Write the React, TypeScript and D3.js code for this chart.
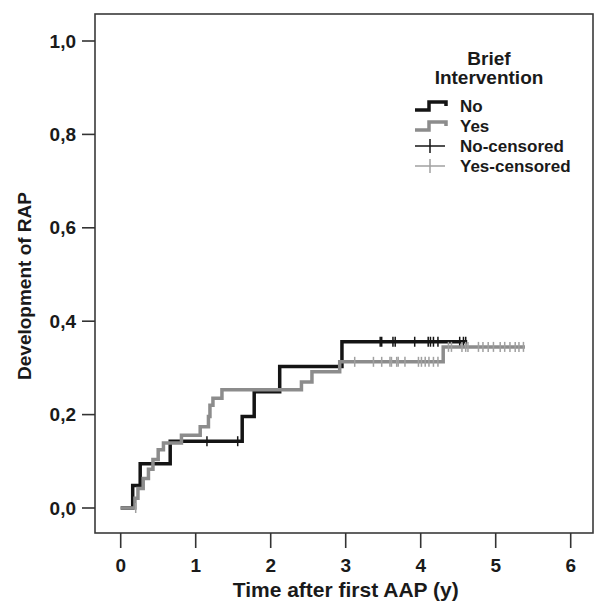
import React from "react";
import * as d3 from "d3";

// Kaplan-Meier style cumulative incidence steps: [time, value]
const noSteps: [number, number][] = [
  [0, 0], [0.16, 0.048], [0.26, 0.095], [0.66, 0.143], [1.62, 0.196],
  [1.78, 0.249], [2.12, 0.303], [2.95, 0.356],
];
const noEnd = 4.62;
const noCensored: [number, number][] = [
  [1.15, 0.143], [1.56, 0.143],
  [3.46, 0.356], [3.48, 0.356], [3.63, 0.356], [3.66, 0.356], [3.92, 0.356],
  [4.10, 0.356], [4.13, 0.356], [4.17, 0.356], [4.23, 0.356], [4.52, 0.356],
  [4.57, 0.356], [4.60, 0.356],
];

const yesSteps: [number, number][] = [
  [0, 0], [0.19, 0.021], [0.23, 0.042], [0.30, 0.063], [0.37, 0.083],
  [0.43, 0.104], [0.50, 0.125], [0.57, 0.139], [0.81, 0.156], [1.06, 0.174],
  [1.17, 0.196], [1.19, 0.22], [1.23, 0.235], [1.35, 0.253], [2.41, 0.27],
  [2.55, 0.292], [2.92, 0.313], [4.30, 0.345],
];
const yesEnd = 5.39;
const yesCensored: [number, number][] = [
  [0.2, 0],
  [3.12, 0.313], [3.37, 0.313], [3.48, 0.313], [3.59, 0.313], [3.61, 0.313],
  [3.68, 0.313], [3.70, 0.313], [3.79, 0.313], [3.97, 0.313], [4.01, 0.313],
  [4.06, 0.313], [4.11, 0.313], [4.17, 0.313], [4.23, 0.313],
  [4.37, 0.345], [4.41, 0.345], [4.55, 0.345], [4.60, 0.345], [4.63, 0.345],
  [4.77, 0.345], [4.83, 0.345], [4.90, 0.345], [4.97, 0.345], [5.06, 0.345],
  [5.12, 0.345], [5.19, 0.345], [5.26, 0.345], [5.31, 0.345], [5.37, 0.345],
];

const xTicks = [0, 1, 2, 3, 4, 5, 6];
const yTicks = [0, 0.2, 0.4, 0.6, 0.8, 1.0];
const yTickLabels = ["0,0", "0,2", "0,4", "0,6", "0,8", "1,0"];
const legendTitle = ["Brief", "Intervention"];
const legendLabels = ["No", "Yes", "No-censored", "Yes-censored"];

const W = 594;
const H = 602;
const box = { left: 95, top: 14, right: 593, bottom: 533 };
const BLACK = "#141414";
const GRAY = "#8c8c8c";
const GRAY_C = "#a0a0a0";
const FONT = "'Liberation Sans', Arial, sans-serif";

export default function App() {
  const x = d3.scaleLinear().domain([0, 6]).range([120.7, 570.7]);
  const y = d3.scaleLinear().domain([0, 1]).range([508, 41]);
  const line = d3
    .line<[number, number]>()
    .x((d) => x(d[0]))
    .y((d) => y(d[1]))
    .curve(d3.curveStepAfter);

  const noPath = line([...noSteps, [noEnd, noSteps[noSteps.length - 1][1]]]) || "";
  const yesPath = line([...yesSteps, [yesEnd, yesSteps[yesSteps.length - 1][1]]]) || "";

  const lx = 415;
  const rows = [106, 126, 146, 166];

  return (
    <svg
      width={W}
      height={H}
      style={{ position: "absolute", left: 0, top: 0, background: "#fff" }}
      fontFamily={FONT}
    >
      <rect x={0} y={0} width={W} height={H} fill="#fff" />
      {/* plot frame */}
      <rect
        x={box.left}
        y={box.top}
        width={box.right - box.left}
        height={box.bottom - box.top}
        fill="none"
        stroke="#3a3a3a"
        strokeWidth={1.6}
      />
      {/* y axis */}
      {yTicks.map((t, i) => (
        <g key={"y" + i}>
          <line x1={82} x2={box.left} y1={y(t)} y2={y(t)} stroke="#333" strokeWidth={1.6} />
          <text
            x={76}
            y={y(t)}
            textAnchor="end"
            dominantBaseline="central"
            fontSize={19}
            fontWeight="bold"
            fill="#1a1a1a"
          >
            {yTickLabels[i]}
          </text>
        </g>
      ))}
      <text
        transform={`translate(24,${286}) rotate(-90)`}
        textAnchor="middle"
        dominantBaseline="central"
        fontSize={19}
        fontWeight="bold"
        fill="#1a1a1a"
      >
        Development of RAP
      </text>
      {/* x axis */}
      {xTicks.map((t) => (
        <g key={"x" + t}>
          <line x1={x(t)} x2={x(t)} y1={box.bottom} y2={548} stroke="#333" strokeWidth={1.6} />
          <text
            x={x(t)}
            y={565}
            textAnchor="middle"
            dominantBaseline="central"
            fontSize={19}
            fontWeight="bold"
            fill="#1a1a1a"
          >
            {t}
          </text>
        </g>
      ))}
      <text
        x={(x(0) + x(6)) / 2}
        y={589}
        textAnchor="middle"
        dominantBaseline="central"
        fontSize={21}
        fontWeight="bold"
        fill="#1a1a1a"
      >
        Time after first AAP (y)
      </text>

      {/* curves */}
      <path d={noPath} fill="none" stroke={BLACK} strokeWidth={3.5} strokeLinejoin="miter" />
      {noCensored.map((c, i) => (
        <line
          key={"nc" + i}
          x1={x(c[0])}
          x2={x(c[0])}
          y1={y(c[1]) - 5}
          y2={y(c[1]) + 5}
          stroke={BLACK}
          strokeWidth={1.5}
        />
      ))}
      <path d={yesPath} fill="none" stroke={GRAY} strokeWidth={3.5} strokeLinejoin="miter" />
      {yesCensored.map((c, i) => (
        <line
          key={"yc" + i}
          x1={x(c[0])}
          x2={x(c[0])}
          y1={y(c[1]) - 5}
          y2={y(c[1]) + 5}
          stroke={GRAY_C}
          strokeWidth={1.5}
        />
      ))}

      {/* legend */}
      <text x={489} y={58} textAnchor="middle" dominantBaseline="central" fontSize={19} fontWeight="bold" fill="#1a1a1a">
        {legendTitle[0]}
      </text>
      <text x={489} y={77} textAnchor="middle" dominantBaseline="central" fontSize={19} fontWeight="bold" fill="#1a1a1a">
        {legendTitle[1]}
      </text>
      <path
        d={`M${lx},${rows[0] + 4}H${lx + 14}V${rows[0] - 4}H${lx + 31}V${rows[0]}`}
        fill="none"
        stroke={BLACK}
        strokeWidth={3.5}
      />
      <path
        d={`M${lx},${rows[1] + 4}H${lx + 14}V${rows[1] - 4}H${lx + 31}V${rows[1]}`}
        fill="none"
        stroke={GRAY}
        strokeWidth={3.5}
      />
      <line x1={lx} x2={lx + 30} y1={rows[2]} y2={rows[2]} stroke={BLACK} strokeWidth={1.5} />
      <line x1={lx + 15} x2={lx + 15} y1={rows[2] - 7} y2={rows[2] + 7} stroke={BLACK} strokeWidth={1.5} />
      <line x1={lx} x2={lx + 30} y1={rows[3]} y2={rows[3]} stroke={GRAY_C} strokeWidth={1.5} />
      <line x1={lx + 15} x2={lx + 15} y1={rows[3] - 7} y2={rows[3] + 7} stroke={GRAY_C} strokeWidth={1.5} />
      {legendLabels.map((l, i) => (
        <text
          key={l}
          x={460}
          y={rows[i]}
          dominantBaseline="central"
          fontSize={17}
          fontWeight="bold"
          fill="#1a1a1a"
        >
          {l}
        </text>
      ))}
    </svg>
  );
}
